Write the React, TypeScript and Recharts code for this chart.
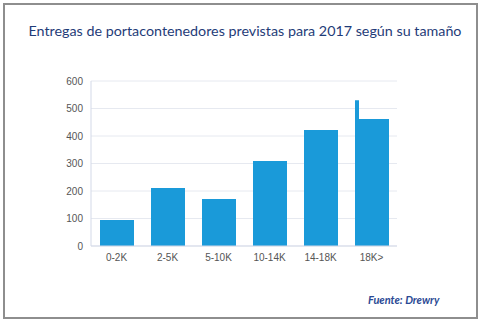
import { BarChart, Bar, XAxis, YAxis, CartesianGrid } from 'recharts'

const categories = ['0-2K', '2-5K', '5-10K', '10-14K', '14-18K', '18K>']
const entregas = [95, 211, 171, 309, 422, 462]
const pico = [null, null, null, null, null, 530]
const yTicks = [0, 100, 200, 300, 400, 500, 600]

const data = categories.map((name, i) => ({ name, entregas: entregas[i], pico: pico[i] }))

const tickStyle = { fill: '#555', fontSize: 10, fontFamily: 'Liberation Sans, Arial, sans-serif' }

export default function App() {
  return (
    <div style={{ position: 'fixed', left: 0, top: 0, width: 480, height: 321, background: '#fff' }}>
      <div
        style={{
          position: 'absolute',
          left: 3,
          top: 3,
          width: 471,
          height: 312,
          border: '2px solid #8e8e8e',
        }}
      />
      <div
        style={{
          position: 'absolute',
          left: 0,
          top: 22,
          width: 490,
          textAlign: 'center',
          color: '#1f3c78',
          fontFamily: 'Lato, sans-serif',
          fontSize: 14.3,
        }}
      >
        Entregas de portacontenedores previstas para 2017 según su tamaño
      </div>
      <div style={{ position: 'absolute', left: 0, top: 0 }}>
        <BarChart
          width={480}
          height={280}
          data={data}
          margin={{ top: 81, right: 83, left: 31, bottom: 4 }}
          barGap={-4}
        >
          <CartesianGrid vertical={false} stroke="#e6e9f0" />
          <XAxis
            dataKey="name"
            tick={tickStyle}
            tickLine={false}
            axisLine={{ stroke: '#d3d9e8' }}
            interval={0}
          />
          <YAxis
            domain={[0, 600]}
            ticks={yTicks}
            tick={tickStyle}
            tickLine={false}
            axisLine={{ stroke: '#d3d9e8' }}
            width={60}
          />
          <Bar dataKey="pico" fill="#1a9ad9" barSize={4} isAnimationActive={false} />
          <Bar dataKey="entregas" fill="#1a9ad9" barSize={34} isAnimationActive={false} />
        </BarChart>
      </div>
      <div
        style={{
          position: 'absolute',
          left: 368,
          top: 293,
          color: '#2a4a94',
          fontFamily: 'Lato, sans-serif',
          fontStyle: 'italic',
          fontWeight: 'bold',
          fontSize: 11,
        }}
      >
        Fuente: Drewry
      </div>
    </div>
  )
}
